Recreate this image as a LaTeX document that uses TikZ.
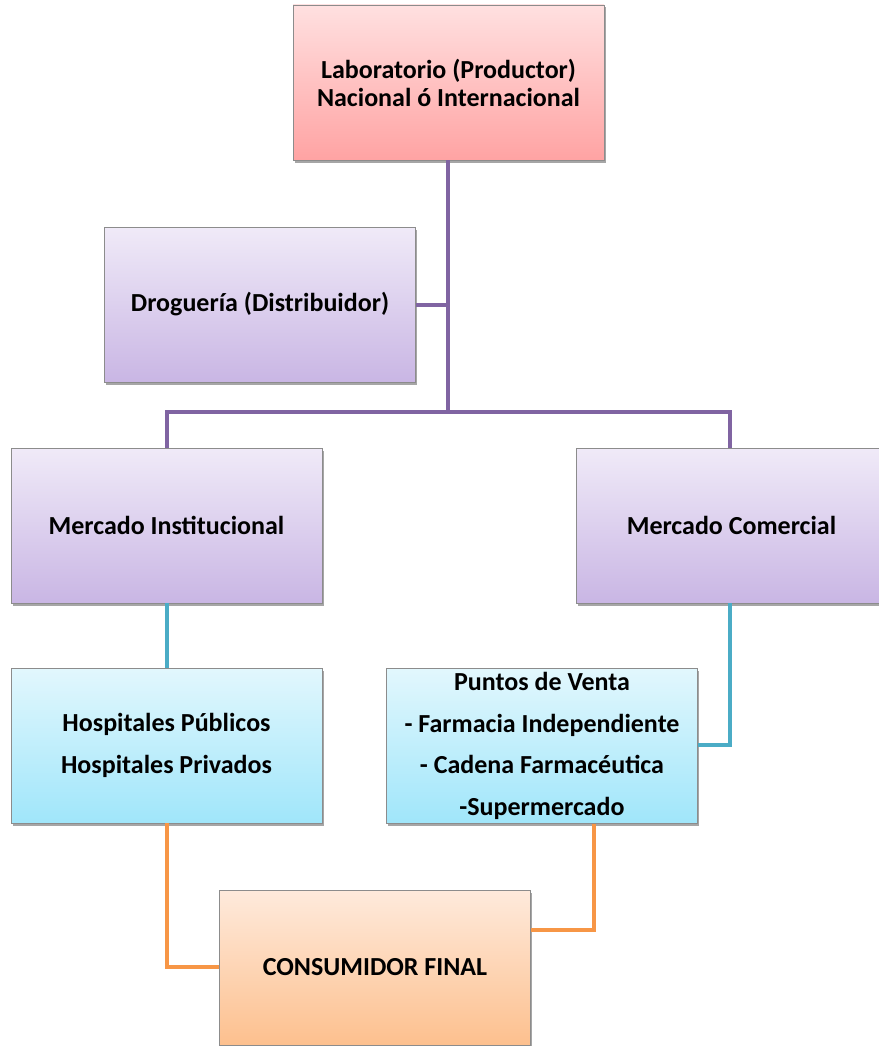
\documentclass[tikz,border=0pt]{standalone}
\usepackage{fontspec}
\setmainfont{Carlito}
\usetikzlibrary{shadows}
\definecolor{lpurple}{HTML}{8064A2}
\definecolor{lteal}{HTML}{4BACC6}
\definecolor{lorange}{HTML}{F79646}
\definecolor{bordergray}{HTML}{8C8C8C}
\tikzset{
  box/.style={draw=bordergray, line width=0.8pt, minimum width=311pt, minimum height=155pt,
    align=center, font=\fontsize{26}{28}\selectfont\bfseries, inner sep=0pt,
    drop shadow={shadow xshift=1.5pt, shadow yshift=-2.5pt, opacity=0.35, fill=black}},
  redbox/.style={box, top color=red!12!white, bottom color={rgb,255:red,255;green,163;blue,163}},
  purplebox/.style={box, top color={rgb,255:red,240;green,234;blue,248}, bottom color={rgb,255:red,201;green,182;blue,228}},
  bluebox/.style={box, top color={rgb,255:red,226;green,247;blue,253}, bottom color={rgb,255:red,160;green,230;blue,250}},
  orangebox/.style={box, top color={rgb,255:red,254;green,234;blue,220}, bottom color={rgb,255:red,253;green,192;blue,142}},
  pline/.style={draw=lpurple, line width=4pt},
  tline/.style={draw=lteal, line width=4pt},
  oline/.style={draw=lorange, line width=4pt},
}
\begin{document}
\begin{tikzpicture}[x=1pt, y=-1pt]
\useasboundingbox (0,0) rectangle (878,1046);
\coordinate (junc) at (448,412);
\coordinate (jl) at (166.5,412);
\coordinate (jr) at (730,412);
\coordinate (tcorner) at (730,745);
\coordinate (ocl) at (166.5,967);
\coordinate (ocr) at (594,930);

\node[redbox] (lab) at (448.5,82.5) {Laboratorio (Productor)\\Nacional ó Internacional};
\node[purplebox] (drog) at (260,304.5) {Droguería (Distribuidor)};
\node[purplebox] (minst) at (166.5,525.5) {Mercado Institucional};
\node[purplebox] (mcom) at (731.5,525.5) {Mercado Comercial};
\node[bluebox, font=\fontsize{26}{42}\selectfont\bfseries] (hosp) at (166.5,745.5) {Hospitales Públicos\\Hospitales Privados};
\node[bluebox, font=\fontsize{26}{41.5}\selectfont\bfseries] (pv) at (542,746) {Puntos de Venta\\- Farmacia Independiente\\- Cadena Farmacéutica\\-Supermercado};
\node[orangebox] (cons) at (375,967.5) {CONSUMIDOR FINAL};

\path[pline] (lab.south -| junc) -- (junc);
\path[pline] (drog.east |- 0,304.5) -- (448,304.5);
\path[pline] (jl |- minst.north) -- (jl) -- (jr) -- (jr |- mcom.north);
\path[tline] (minst.south) -- (hosp.north);
\path[tline] (mcom.south -| tcorner) -- (tcorner) -- (tcorner -| pv.east);
\path[oline] (hosp.south) -- (ocl) -- (ocl -| cons.west);
\path[oline] (pv.south -| ocr) -- (ocr) -- (ocr -| cons.east);
\end{tikzpicture}
\end{document}
